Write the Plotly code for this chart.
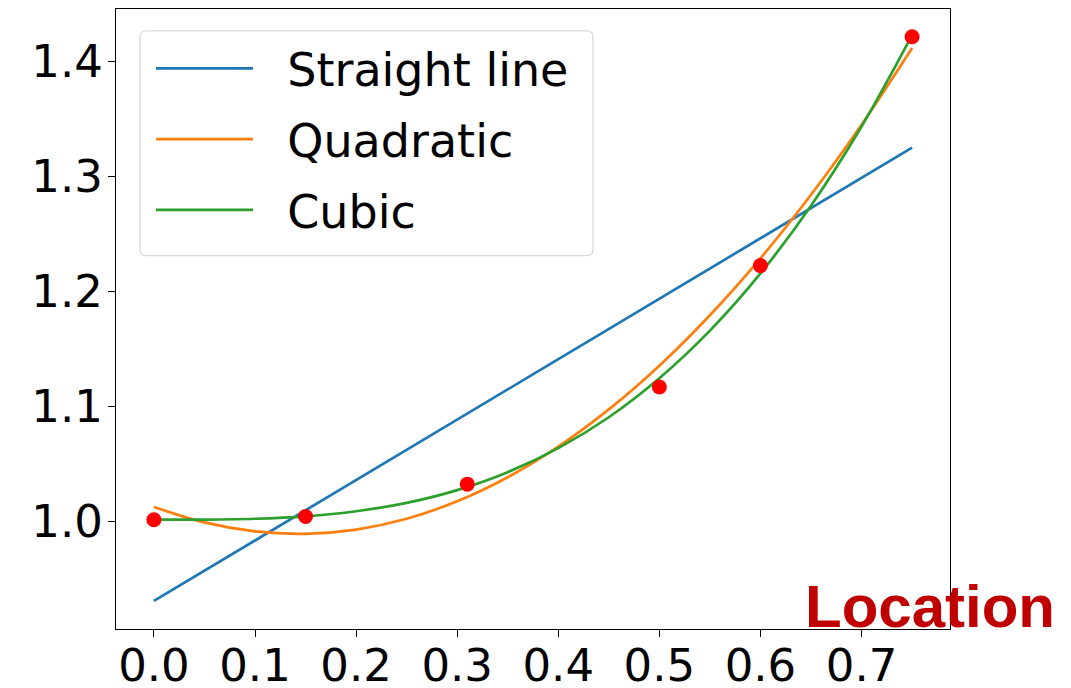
import plotly.graph_objects as go

# Measured data points
pt_x = [0.0, 0.15, 0.31, 0.5, 0.6, 0.75]
pt_y = [1.0015, 1.0044, 1.0325, 1.117, 1.2226, 1.4217]

# Fitted curves, values read at sample positions
fit_x = [0.0, 0.05, 0.10, 0.15, 0.20, 0.25, 0.30, 0.35, 0.40, 0.45, 0.50, 0.55, 0.60, 0.65, 0.70, 0.75]
line_x = [0.0, 0.75]
line_y = [0.9309, 1.3252]
quad_y = [1.0127, 0.9992, 0.9914, 0.9893, 0.9930, 1.0024, 1.0176, 1.0385, 1.0651, 1.0975,
          1.1355, 1.1794, 1.2289, 1.2842, 1.3452, 1.4119]
cubic_y = [1.0017, 1.0017, 1.0024, 1.0045, 1.0089, 1.0162, 1.0273, 1.0429, 1.0638, 1.0907,
           1.1246, 1.1660, 1.2158, 1.2747, 1.3436, 1.4231]

x_ticks = [0.0, 0.1, 0.2, 0.3, 0.4, 0.5, 0.6, 0.7]
y_ticks = [1.0, 1.1, 1.2, 1.3, 1.4]

LW = 2.7
PAD = "\u00a0\u00a0"
fig = go.Figure()
fig.add_trace(go.Scatter(x=line_x, y=line_y, mode="lines", name=PAD + "Straight line",
                         line=dict(color="#1f77b4", width=LW), legendgroup="a"))
fig.add_trace(go.Scatter(x=fit_x, y=quad_y, mode="lines", name=PAD + "Quadratic",
                         line=dict(color="#ff7f0e", width=LW, shape="spline"), legendgroup="b"))
fig.add_trace(go.Scatter(x=fit_x, y=cubic_y, mode="lines", name=PAD + "Cubic",
                         line=dict(color="#2ca02c", width=LW, shape="spline"), legendgroup="c"))
fig.add_trace(go.Scatter(x=pt_x, y=pt_y, mode="markers", showlegend=False,
                         marker=dict(color="#ff0000", size=15, line=dict(width=0))))

axis_common = dict(showline=True, linecolor="black", linewidth=1.3, mirror=True,
                   ticks="outside", ticklen=7, tickwidth=1.2, tickcolor="black",
                   showgrid=False, zeroline=False, automargin=False,
                   tickfont=dict(family="DejaVu Sans", size=45, color="black"))

# legend frame (rounded box) in paper coordinates
x0, x1, y0, y1 = 0.02878, 0.57194, 0.60225, 0.96457
rx, ry = 0.0075, 0.0100
frame_path = (f"M {x0+rx},{y1} L {x1-rx},{y1} Q {x1},{y1} {x1},{y1-ry} "
              f"L {x1},{y0+ry} Q {x1},{y0} {x1-rx},{y0} L {x0+rx},{y0} "
              f"Q {x0},{y0} {x0},{y0+ry} L {x0},{y1-ry} Q {x0},{y1} {x0+rx},{y1} Z")

fig.update_layout(
    width=1063, height=680,
    margin=dict(l=108, r=121, t=1, b=59, autoexpand=False),
    paper_bgcolor="white", plot_bgcolor="white",
    xaxis=dict(range=[-0.0375, 0.7875], tickvals=x_ticks, tickformat=".1f",
               ticklabelstandoff=-10, **axis_common),
    yaxis=dict(range=[0.9065, 1.4458], tickvals=y_ticks, tickformat=".1f",
               ticklabelstandoff=-4, **axis_common),
    legend=dict(x=0.04197, y=0.963, xanchor="left", yanchor="top",
                bgcolor="rgba(0,0,0,0)", borderwidth=0,
                font=dict(family="DejaVu Sans", size=46, color="black"),
                itemwidth=97, traceorder="grouped", tracegroupgap=8),
    shapes=[dict(type="path", xref="paper", yref="paper", path=frame_path,
                 fillcolor="rgba(255,255,255,0.8)", line=dict(color="#d9d9d9", width=1.3),
                 layer="above")],
    annotations=[dict(text="<b>Location</b>", xref="paper", yref="paper",
                      x=1.1283, y=0.0362, xanchor="right", yanchor="middle", showarrow=False,
                      font=dict(family="Liberation Sans", size=60, color="#c00000"))],
)

fig.write_html("out.html")
